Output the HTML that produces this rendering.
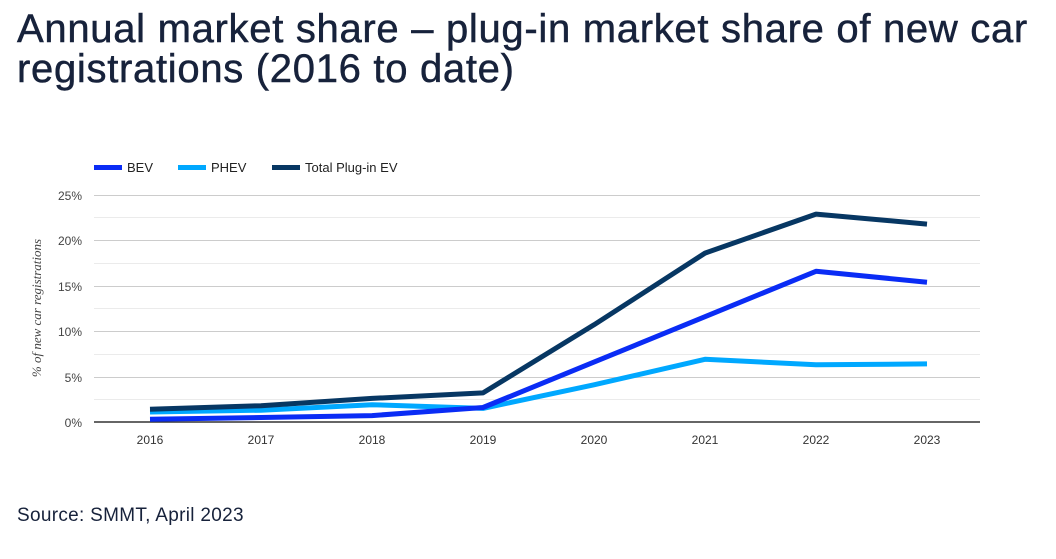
<!DOCTYPE html>
<html><head><meta charset="utf-8"><style>
body{margin:0;background:#fff;width:1056px;height:559px;overflow:hidden;font-family:"Liberation Sans",sans-serif}
h1{position:absolute;left:17px;top:9px;margin:0;font-size:40px;line-height:40px;font-weight:normal;color:#17223b;letter-spacing:0.7px;width:1045px;white-space:nowrap;-webkit-text-stroke:0.5px #17223b}
.src{position:absolute;left:17px;top:505px;font-size:19px;color:#17223b;letter-spacing:0.3px}
</style></head><body>
<h1>Annual market share – plug-in market share of new car<br>registrations (2016 to date)</h1>
<svg width="1056" height="559" style="position:absolute;left:0;top:0" font-family="Liberation Sans, sans-serif">
<g stroke="#ebebeb" stroke-width="1">
<line x1="94" x2="980" y1="217.5" y2="217.5"/><line x1="94" x2="980" y1="263.5" y2="263.5"/><line x1="94" x2="980" y1="308.5" y2="308.5"/><line x1="94" x2="980" y1="354.5" y2="354.5"/><line x1="94" x2="980" y1="399.5" y2="399.5"/>
</g>
<g stroke="#cccccc" stroke-width="1">
<line x1="94" x2="980" y1="195.5" y2="195.5"/><line x1="94" x2="980" y1="240.5" y2="240.5"/><line x1="94" x2="980" y1="286.5" y2="286.5"/><line x1="94" x2="980" y1="331.5" y2="331.5"/><line x1="94" x2="980" y1="377.5" y2="377.5"/>
</g>
<line x1="94" x2="980" y1="422" y2="422" stroke="#333" stroke-width="1.5"/>
<g font-size="12" fill="#444" text-anchor="end">
<text x="82" y="200">25%</text><text x="82" y="245">20%</text><text x="82" y="291">15%</text><text x="82" y="336">10%</text><text x="82" y="382">5%</text><text x="82" y="427">0%</text>
</g>
<g font-size="12" fill="#333" text-anchor="middle">
<text x="150" y="444">2016</text><text x="261" y="444">2017</text><text x="372" y="444">2018</text><text x="483" y="444">2019</text><text x="594" y="444">2020</text><text x="705" y="444">2021</text><text x="816" y="444">2022</text><text x="927" y="444">2023</text>
</g>
<text transform="translate(41,308) rotate(-90)" text-anchor="middle" font-family="Liberation Serif, serif" font-style="italic" font-size="13" fill="#444">% of new car registrations</text>
<g fill="none" stroke-width="5" stroke-linejoin="round">
<polyline stroke="#00a8ff" points="150,412 261,410.2 372,404.7 483,408.4 594,384.8 705,359.3 816,364.8 927,363.9"/>
<polyline stroke="#0a2cf5" points="150,419.3 261,417.5 372,415.6 483,407.5 594,362.1 705,316.7 816,271.3 927,282.2"/>
<polyline stroke="#073763" points="150,409.3 261,405.7 372,398.4 483,392.9 594,324.8 705,253.1 816,214.1 927,224.1"/>
</g>
<rect x="94" y="165" width="28" height="5" fill="#0a2cf5"/><text x="127" y="172" font-size="13" fill="#222">BEV</text>
<rect x="178" y="165" width="28" height="5" fill="#00a8ff"/><text x="211" y="172" font-size="13" fill="#222">PHEV</text>
<rect x="272" y="165" width="28" height="5" fill="#073763"/><text x="305" y="172" font-size="13" fill="#222">Total Plug-in EV</text>
</svg>
<div class="src">Source: SMMT, April 2023</div>
</body></html>
